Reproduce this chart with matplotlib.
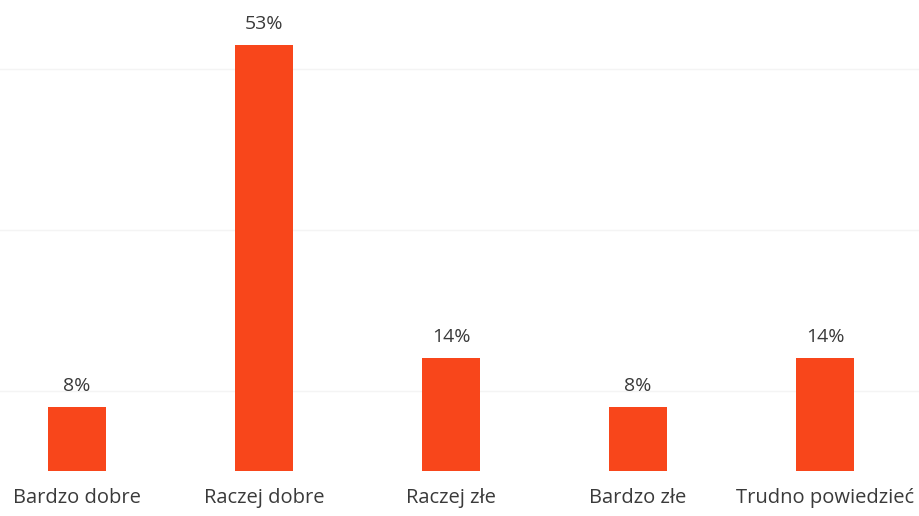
import matplotlib
matplotlib.use("Agg")
import matplotlib.pyplot as plt

categories = ["Bardzo dobre", "Raczej dobre", "Raczej złe", "Bardzo złe", "Trudno powiedzieć"]
values = [8, 53, 14, 8, 14]
value_labels = ["8%", "53%", "14%", "8%", "14%"]

fig = plt.figure(figsize=(9.19, 5.16), dpi=100)
ax = fig.add_axes([0, 45/516, 1, 471/516])
x = list(range(len(categories)))
ax.bar(x, values, width=0.31, color="#F8461B", zorder=2)
ax.set_xlim(-0.412, 4.503)
ax.set_ylim(0, 58.6)
for gy in [10, 30, 50]:
    ax.axhline(gy, color="#f4f4f4", lw=1, zorder=1)
for xi, v, lab in zip(x, values, value_labels):
    ax.text(xi, v + 1.5, lab, ha="center", va="bottom", fontsize=14,
            family="Open Sans", color="#3a3a3a")
for xi, c in zip(x, categories):
    ax.text(xi, -3.3, c, ha="center", va="center", fontsize=14.5,
            family="Open Sans", color="#3a3a3a", clip_on=False)
ax.axis("off")
fig.savefig("out.png", dpi=100)
